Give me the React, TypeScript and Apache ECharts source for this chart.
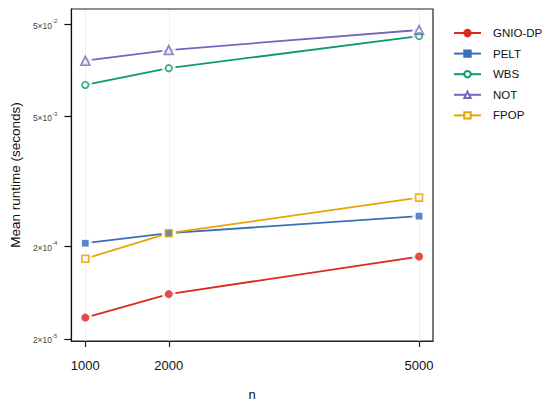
import React, { useEffect, useRef } from "react";
import * as echarts from "echarts";

const nValues = [1000, 2000, 5000];
const seriesNames = ["GNIO-DP", "PELT", "WBS", "NOT", "FPOP"];
const gnioValues = [3.4e-5, 6.1e-5, 1.55e-4];
const peltValues = [2.16e-4, 2.77e-4, 4.23e-4];
const wbsValues = [0.011, 0.0167, 0.0371];
const notValues = [0.0201, 0.0262, 0.0431];
const fpopValues = [1.47e-4, 2.77e-4, 6.7e-4];
const yTickValues = [2e-5, 2e-4, 5e-3, 5e-2];
const yTickMantissas = ["2", "2", "5", "5"];
const yTickExponents = ["-5", "-4", "-3", "-2"];
const xTickValues = [1000, 2000, 5000];

const colors = ["#D92B20", "#3A70B8", "#0C9B6C", "#7068BB", "#E9A400"];
const legendSymbols = ["circle", "rect", "emptyCircle", "emptyTriangle", "emptyRect"];
const markerSymbols = ["circle", "rect", "circle", "triangle", "rect"];
const markerSizes = [8, 6.5, 6.5, 9, 7];
const markerFilled = [true, true, false, false, false];

const FONT = "'Liberation Sans', Arial, Helvetica, sans-serif";

export default function App() {
  const ref = useRef<HTMLDivElement>(null);
  useEffect(() => {
    if (!ref.current) return;
    const chart = echarts.init(ref.current, undefined, { renderer: "svg" });
    const allValues = [gnioValues, peltValues, wbsValues, notValues, fpopValues];
    const toData = (vals: number[]) => vals.map((v, i) => [nValues[i], Math.log10(v)]);
    const yTickLogs = yTickValues.map((v) => Math.log10(v));

    const lineSeries = seriesNames.map((name, k) => ({
      type: "line",
      name,
      data: toData(allValues[k]),
      symbol: legendSymbols[k],
      symbolSize: 6,
      z: 2,
      color: colors[k],
      itemStyle: { color: colors[k], borderColor: colors[k], borderWidth: 1.4 },
      lineStyle: { color: colors[k], width: 1.8 },
      silent: true,
    }));

    const gapSeries = {
      type: "scatter",
      name: "gaps",
      data: allValues.flatMap((vals) => toData(vals)),
      symbol: "circle",
      symbolSize: 14,
      itemStyle: { color: "#ffffff" },
      z: 3,
      silent: true,
      markLine: {
        silent: true,
        z: 4,
        symbol: ["none", "none"],
        label: { show: false },
        lineStyle: { type: "dotted", color: "#dedede", width: 1 },
        data: xTickValues.map((x) => ({ xAxis: x })),
        animation: false,
      },
    };

    const markerSeries = seriesNames.map((name, k) => ({
      type: "scatter",
      name: name + " points",
      data: toData(allValues[k]),
      symbol: markerSymbols[k],
      symbolSize: markerSizes[k],
      z: 10,
      silent: true,
      itemStyle: markerFilled[k]
        ? { color: colors[k] }
        : { color: "rgba(0,0,0,0)", borderColor: colors[k], borderWidth: 1.6 },
    }));

    chart.setOption({
      animation: false,
      backgroundColor: "#ffffff",
      textStyle: { fontFamily: FONT },
      grid: {
        left: 68,
        top: 9,
        right: 117,
        bottom: 65,
        show: true,
        borderColor: "#222",
        borderWidth: 1.2,
        backgroundColor: "transparent",
      },
      legend: {
        orient: "vertical",
        left: 453,
        top: 27,
        padding: 0,
        itemWidth: 27,
        itemHeight: 8,
        itemGap: 8.6,
        data: seriesNames,
        selectedMode: false,
        textStyle: { fontFamily: FONT, fontSize: 11.5, color: "#111", padding: [0, 0, 0, 7] },
      },
      xAxis: {
        type: "value",
        min: 833,
        max: 5167,
        name: "n",
        nameLocation: "middle",
        nameGap: 47,
        nameTextStyle: { fontFamily: FONT, fontSize: 13, color: "#111" },
        axisLine: { show: true, lineStyle: { color: "#222", width: 1.2 } },
        axisTick: { show: true, length: 6, customValues: xTickValues, lineStyle: { color: "#222", width: 1.2 } },
        axisLabel: {
          customValues: xTickValues,
          margin: 18,
          fontSize: 13,
          color: "#111",
          fontFamily: FONT,
          formatter: (v: number) => String(v),
        },
        splitLine: { show: false },
      },
      yAxis: {
        type: "value",
        min: -4.7206,
        max: -1.139,
        name: "Mean runtime (seconds)",
        nameLocation: "middle",
        nameGap: 48,
        nameTextStyle: { fontFamily: FONT, fontSize: 13.5, color: "#111" },
        axisLine: { show: true, lineStyle: { color: "#111", width: 1.2 } },
        axisTick: { show: true, length: 7, customValues: yTickLogs, lineStyle: { color: "#111", width: 1.2 } },
        axisLabel: {
          customValues: yTickLogs,
          margin: 14,
          formatter: (v: number) => {
            let idx = 0;
            let best = Infinity;
            yTickLogs.forEach((t, i) => {
              const d = Math.abs(t - v);
              if (d < best) {
                best = d;
                idx = i;
              }
            });
            return `{m|${yTickMantissas[idx]}×10}{e|${yTickExponents[idx]}}`;
          },
          rich: {
            m: { fontSize: 8.5, color: "#444", fontFamily: FONT, lineHeight: 12, verticalAlign: "bottom" },
            e: { fontSize: 6, color: "#444", fontFamily: FONT, lineHeight: 12, verticalAlign: "top" },
          },
        },
        splitLine: { show: false },
      },
      series: [...lineSeries, gapSeries, ...markerSeries],
    });
    return () => chart.dispose();
  }, []);
  return (
    <div
      ref={ref}
      style={{ position: "fixed", left: 0, top: 0, width: 550, height: 406, background: "#fff" }}
    />
  );
}
